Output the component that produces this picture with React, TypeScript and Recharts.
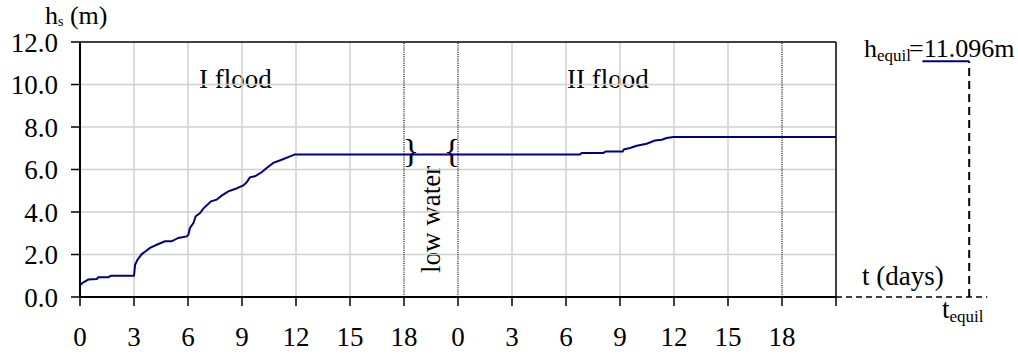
import { LineChart, Line, XAxis, YAxis, ReferenceLine } from "recharts";

// time axis: flood I (0-18), low water (18-21), flood II (21-42), days
const tDays = [
  0, 0, 0.13, 0.46, 0.93, 1.02, 1.57, 1.72, 3.0, 3.06, 3.2, 3.43, 3.65, 3.89,
  4.26, 4.72, 5.09, 5.46, 5.93, 6.02, 6.11, 6.3, 6.43, 6.67, 6.85, 7.28, 7.59,
  7.87, 8.24, 8.61, 9.07, 9.26, 9.44, 9.72, 10.09, 10.37, 10.74, 11.2, 11.67,
  11.94, 18, 21, 27.78, 27.87, 29.07, 29.22, 30.15, 30.22, 30.56, 30.93, 31.48,
  31.94, 32.32, 32.59, 32.96, 42,
];
const hScour = [
  0, 0.55, 0.66, 0.82, 0.85, 0.93, 0.93, 1.0, 1.0, 1.52, 1.76, 2.02, 2.15,
  2.31, 2.46, 2.62, 2.62, 2.78, 2.85, 2.93, 3.25, 3.48, 3.8, 3.95, 4.16, 4.5,
  4.58, 4.77, 4.97, 5.08, 5.25, 5.4, 5.63, 5.68, 5.87, 6.07, 6.31, 6.46, 6.62,
  6.71, 6.71, 6.71, 6.71, 6.78, 6.78, 6.85, 6.85, 6.95, 7.01, 7.12, 7.21, 7.36,
  7.4, 7.48, 7.53, 7.53,
];

const xTicks = [0, 3, 6, 9, 12, 15, 18, 21, 24, 27, 30, 33, 36, 39, 42];
const yTicks = [0, 2, 4, 6, 8, 10, 12];
const greyGridX = [3, 6, 9, 12, 15, 24, 27, 30, 33, 36];
const dottedGridX = [18, 21, 39];
const greyGridY = [2, 4, 6, 8, 10];

const tEnd = 42;
const hEquil = 11.096;
const tEquil = 49.4;
const equilStart = 46.8;
const zeroLineEnd = 50.4;

const data = tDays.map((t, i) => ({ t, h: hScour[i] }));

const FONT = "'Liberation Serif', 'Times New Roman', serif";
const tickStyle = { fill: "#000", fontSize: 27, fontFamily: FONT };

function dayLabel(v: number) {
  if (v >= tEnd) return "";
  return String(v <= 18 ? v : v - 21);
}

export default function App() {
  return (
    <div style={{ position: "absolute", left: 0, top: 0, background: "#fff" }}>
      <LineChart
        width={1018}
        height={357}
        data={data}
        margin={{ top: 42, right: 2, bottom: 0, left: 0 }}
      >
        <XAxis
          type="number"
          dataKey="t"
          domain={[0, 52]}
          ticks={xTicks}
          tickFormatter={dayLabel}
          axisLine={false}
          tickLine={{ stroke: "#000", strokeWidth: 1.5 }}
          tickSize={9}
          tickMargin={21}
          height={60}
          tick={tickStyle}
          interval={0}
        />
        <YAxis
          type="number"
          domain={[0, 12]}
          ticks={yTicks}
          tickFormatter={(v: number) => v.toFixed(1)}
          axisLine={{ stroke: "#000", strokeWidth: 2 }}
          tickLine={{ stroke: "#000", strokeWidth: 1.5 }}
          tickSize={9}
          tickMargin={13}
          width={80}
          tick={tickStyle}
          interval={0}
        />

        {greyGridY.map((y) => (
          <ReferenceLine
            key={`gy${y}`}
            segment={[{ x: 0, y }, { x: tEnd, y }]}
            stroke="#d0d0d0"
            strokeWidth={1.5}
          />
        ))}
        {greyGridX.map((x) => (
          <ReferenceLine
            key={`gx${x}`}
            segment={[{ x, y: 0 }, { x, y: 12 }]}
            stroke="#d0d0d0"
            strokeWidth={1.5}
          />
        ))}
        {dottedGridX.map((x) => (
          <ReferenceLine
            key={`dx${x}`}
            segment={[{ x, y: 0 }, { x, y: 12 }]}
            stroke="#000"
            strokeWidth={1.2}
            strokeDasharray="1 1.2"
          />
        ))}

        {/* plot box */}
        <ReferenceLine segment={[{ x: 0, y: 12 }, { x: tEnd, y: 12 }]} stroke="#000" strokeWidth={1.5} />
        <ReferenceLine segment={[{ x: tEnd, y: 0 }, { x: tEnd, y: 12 }]} stroke="#000" strokeWidth={1.5} />
        <ReferenceLine segment={[{ x: 0, y: 0 }, { x: tEnd, y: 0 }]} stroke="#000" strokeWidth={2} />

        {/* equilibrium */}
        <ReferenceLine
          segment={[{ x: tEnd, y: 0 }, { x: zeroLineEnd, y: 0 }]}
          stroke="#000"
          strokeWidth={1.5}
          strokeDasharray="6 4"
        />
        <ReferenceLine
          segment={[{ x: tEquil, y: 0 }, { x: tEquil, y: hEquil }]}
          stroke="#000"
          strokeWidth={2}
          strokeDasharray="8 5"
        />
        <ReferenceLine
          segment={[{ x: equilStart, y: hEquil }, { x: tEquil, y: hEquil }]}
          stroke="#000080"
          strokeWidth={2}
        />

        <Line
          type="linear"
          dataKey="h"
          stroke="#000080"
          strokeWidth={2}
          dot={false}
          isAnimationActive={false}
        />

        <text x={45} y={24} fontFamily={FONT} fontSize={26} fill="#000">
          h<tspan fontSize={14} dy={2}>s</tspan>
          <tspan dy={-2}> (m)</tspan>
        </text>
        <text x={199} y={88} fontFamily={FONT} fontSize={27} fill="#000">I flood</text>
        <text x={567} y={88} fontFamily={FONT} fontSize={27} fill="#000">II flood</text>
        <text
          x={440}
          y={273}
          transform="rotate(-90 440 273)"
          fontFamily={FONT}
          fontSize={27}
          fill="#000"
        >
          low water
        </text>
        <text x={411} y={162} textAnchor="middle" fontFamily={FONT} fontSize={34} fill="#000">{"}"}</text>
        <text x={452} y={162} textAnchor="middle" fontFamily={FONT} fontSize={34} fill="#000">{"{"}</text>
        <text x={864} y={57} fontFamily={FONT} fontSize={26} fill="#000">
          h<tspan fontSize={17} dy={4}>equil</tspan>
          <tspan dy={-4} dx={-2}>=11.096m</tspan>
        </text>
        <text x={862} y={285} fontFamily={FONT} fontSize={27} fill="#000">t (days)</text>
        <text x={942} y={318} fontFamily={FONT} fontSize={27} fill="#000">
          t<tspan fontSize={17} dy={4}>equil</tspan>
        </text>
      </LineChart>
    </div>
  );
}
